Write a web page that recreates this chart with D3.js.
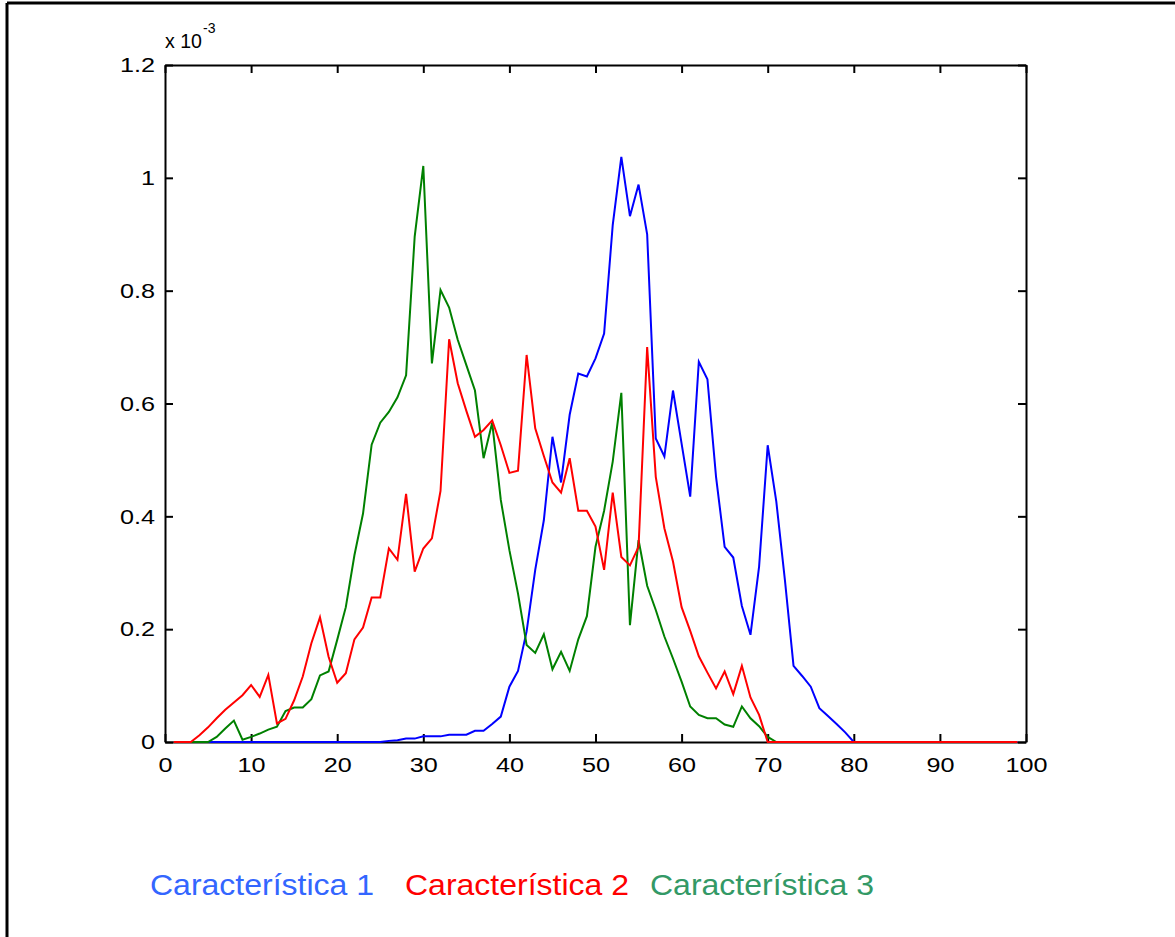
<!DOCTYPE html>
<html>
<head>
<meta charset="utf-8">
<script src="https://cdn.jsdelivr.net/npm/d3@7"></script>
<style>
  body { margin: 0; background: #fff; }
  svg { display: block; font-family: "Liberation Sans", Arial, sans-serif; }
  .line { fill: none; stroke-width: 2px; stroke-linejoin: miter; }
</style>
</head>
<body>
<svg width="1175" height="937"></svg>
<script>
// values in units of 1e-3, sampled at x = 1..99
const carac1 = [0,0,0,0,0,0,0,0,0,0, 0,0,0,0,0,0,0,0,0,0,
  0,0,0,0,0,0.002,0.003,0.006,0.006,0.010, 0.010,0.010,0.013,0.013,0.013,0.020,0.020,0.032,0.045,0.098,
  0.126,0.196,0.305,0.393,0.541,0.460,0.580,0.653,0.648,0.680, 0.724,0.916,1.037,0.932,0.988,0.900,0.538,0.506,0.623,0.529,
  0.435,0.674,0.643,0.470,0.346,0.327,0.241,0.190,0.311,0.526, 0.426,0.287,0.135,0.117,0.098,0.060,0.046,0.032,0.017,0,
  0,0,0,0,0,0,0,0,0,0, 0,0,0,0,0,0,0,0,0];

const carac2 = [0,0,0,0.012,0.026,0.042,0.057,0.070,0.083,0.101,
  0.080,0.119,0.033,0.041,0.074,0.116,0.175,0.221,0.151,0.105,
  0.122,0.182,0.203,0.256,0.256,0.343,0.323,0.440,0.302,0.343,
  0.361,0.445,0.714,0.636,0.587,0.541,0.553,0.570,0.526,0.477,
  0.481,0.686,0.556,0.507,0.460,0.442,0.503,0.410,0.410,0.382,
  0.305,0.442,0.328,0.313,0.346,0.700,0.470,0.379,0.320,0.239,
  0.197,0.152,0.123,0.095,0.125,0.085,0.135,0.079,0.048,0,
  0,0,0,0,0,0,0,0,0,0, 0,0,0,0,0,0,0,0,0,0, 0,0,0,0,0,0,0,0,0];

const carac3 = [0,0,0,0,0,0.009,0.024,0.038,0.004,0.009,
  0.015,0.022,0.027,0.055,0.061,0.061,0.076,0.118,0.125,0.181,
  0.239,0.331,0.405,0.527,0.566,0.585,0.611,0.650,0.896,1.021,
  0.671,0.801,0.770,0.713,0.668,0.623,0.503,0.566,0.429,0.340,
  0.263,0.172,0.158,0.191,0.129,0.160,0.126,0.182,0.223,0.346,
  0.410,0.497,0.619,0.207,0.358,0.277,0.234,0.187,0.148,0.107,
  0.063,0.048,0.042,0.042,0.031,0.027,0.063,0.042,0.028,0.009,
  0];

const series = [
  {name: "Característica 1", values: carac1, colour: "#0000ff", legend: "#3366ff"},
  {name: "Característica 3", values: carac3, colour: "#008000", legend: "#339966"},
  {name: "Característica 2", values: carac2, colour: "#ff0000", legend: "#ff0000"}
];
const legendOrder = ["Característica 1", "Característica 2", "Característica 3"];

const xTicks = [0, 10, 20, 30, 40, 50, 60, 70, 80, 90, 100];
const yTicks = [0, 0.2, 0.4, 0.6, 0.8, 1, 1.2];

const svg = d3.select("svg"),
    margin = {top: 65, left: 165},
    width = 861,
    height = 677,
    g = svg.append("g").attr("transform", "translate(" + margin.left + "," + margin.top + ")");

// outer frame (left and top edges only)
svg.append("line").attr("x1", 7).attr("y1", 3).attr("x2", 1175).attr("y2", 3)
    .attr("stroke", "#000").attr("stroke-width", 3);
svg.append("line").attr("x1", 7).attr("y1", 3).attr("x2", 7).attr("y2", 937)
    .attr("stroke", "#000").attr("stroke-width", 3);

const xScale = d3.scaleLinear().domain([0, 100]).range([0, width]),
    yScale = d3.scaleLinear().domain([0, 1.2]).range([height, 0]);

const line = d3.line()
    .x(function(d, i) { return xScale(i + 1); })
    .y(function(d) { return yScale(d); });

// Draws axes on all four sides, ticks pointing inwards
const fmt = function(d) { return d3.format("")(d); };
const stretch = 1.2;

g.append("g").attr("class", "axis")
    .attr("transform", "translate(0," + height + ")")
    .call(d3.axisBottom(xScale).tickValues(xTicks).tickSizeInner(-8).tickSizeOuter(0).tickPadding(15).tickFormat(fmt));
g.append("g").attr("class", "axis")
    .call(d3.axisTop(xScale).tickValues(xTicks).tickSizeInner(-8).tickSizeOuter(0).tickFormat(""));
const yAxis = g.append("g").attr("class", "axis")
    .call(d3.axisLeft(yScale).tickValues(yTicks).tickSizeInner(-8).tickSizeOuter(0).tickFormat(fmt));
g.append("g").attr("class", "axis")
    .attr("transform", "translate(" + width + ",0)")
    .call(d3.axisRight(yScale).tickValues(yTicks).tickSizeInner(-8).tickSizeOuter(0).tickFormat(""));

g.selectAll(".axis path, .axis line").attr("stroke", "#000").attr("stroke-width", 2);
g.selectAll(".axis text").style("font-size", "21px").style("fill", "#000")
    .attr("transform", "scale(" + stretch + ",1)");
yAxis.selectAll("text").attr("x", -10 / stretch);

// Draws one line per series
g.selectAll(".serie")
  .data(series)
  .enter().append("path")
    .attr("class", "line")
    .attr("d", function(d) { return line(d.values); })
    .style("stroke", function(d) { return d.colour; });

// exponent label
svg.append("text")
    .attr("x", 165).attr("y", 48)
    .style("font-size", "21px")
    .attr("textLength", 37).attr("lengthAdjust", "spacingAndGlyphs")
    .text("x 10");
svg.append("text")
    .attr("x", 203).attr("y", 33)
    .style("font-size", "14px")
    .text("-3");

// legend below the chart
const legendX = [150, 405, 650];
svg.selectAll(".legend")
  .data(legendOrder)
  .enter().append("text")
    .attr("class", "legend")
    .attr("x", function(d, i) { return legendX[i]; })
    .attr("y", 895)
    .attr("textLength", 224).attr("lengthAdjust", "spacingAndGlyphs")
    .style("font-size", "30px")
    .style("fill", function(d) { return series.find(function(s) { return s.name === d; }).legend; })
    .text(function(d) { return d; });
</script>
</body>
</html>
